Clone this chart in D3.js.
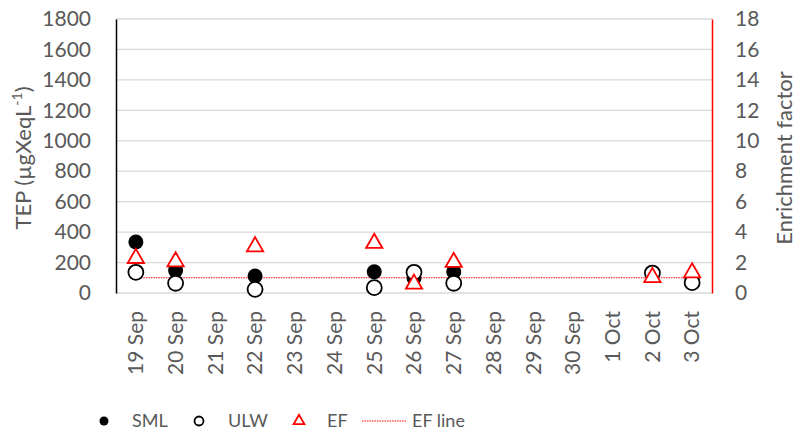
<!DOCTYPE html>
<html>
<head>
<meta charset="utf-8">
<script src="https://cdn.jsdelivr.net/npm/d3@7"></script>
<style>
  body { margin: 0; background: #fff; }
  svg { display: block; }
  text { font-family: Lato, "Liberation Sans", sans-serif; fill: #595959; }
</style>
</head>
<body>
<svg id="chart" width="796" height="430"></svg>
<script>
const categories = ["19 Sep","20 Sep","21 Sep","22 Sep","23 Sep","24 Sep","25 Sep","26 Sep","27 Sep","28 Sep","29 Sep","30 Sep","1 Oct","2 Oct","3 Oct"];
const smlValues = [335, 147, null, 112, null, null, 140, 99, 140, null, null, null, null, 131, 88];
const ulwValues = [136, 64, null, 24, null, null, 35, 136, 64, null, null, null, null, 131, 68];
const efValues  = [2.28, 2.06, null, 3.05, null, null, 3.27, 0.59, 2.02, null, null, null, null, 1.03, 1.34];
const efLineValue = 1;
const leftTicks = [0,200,400,600,800,1000,1200,1400,1600,1800];
const rightTicks = [0,2,4,6,8,10,12,14,16,18];

const svg = d3.select("#chart");
const L = 116, R = 712, T = 19, B = 293;

const x = d3.scaleBand().domain(categories).range([L, R]);
const yL = d3.scaleLinear().domain([0, 1800]).range([B, T]);
const yR = d3.scaleLinear().domain([0, 18]).range([B, T]);
const cx = d => x(d) + x.bandwidth() / 2;

// gridlines
svg.append("g").selectAll("line").data(leftTicks).join("line")
  .attr("x1", L).attr("x2", R)
  .attr("y1", d => yL(d)).attr("y2", d => yL(d))
  .attr("stroke", "#d9d9d9").attr("stroke-width", 1.3);

// left axis
const gL = svg.append("g").attr("transform", `translate(${L},0)`)
  .call(d3.axisLeft(yL).tickValues(leftTicks).tickFormat(d3.format("d")).tickSize(0).tickPadding(25));
gL.select(".domain").attr("stroke", "#000").attr("stroke-width", 1.5);
gL.selectAll("text").style("font-size", "21px").attr("fill", "#595959");

// right axis
const gR = svg.append("g").attr("transform", `translate(${R},0)`)
  .call(d3.axisRight(yR).tickValues(rightTicks).tickFormat(d3.format("d")).tickSize(0).tickPadding(23));
gR.select(".domain").attr("stroke", "#ff0000").attr("stroke-width", 1.5);
gR.selectAll("text").style("font-size", "21px").attr("fill", "#595959");

// x axis labels
const gX = svg.append("g").attr("transform", `translate(0,${B})`)
  .call(d3.axisBottom(x).tickSize(0).tickPadding(0));
gX.select(".domain").remove();
gX.selectAll("text")
  .style("font-size", "21px").attr("fill", "#595959")
  .attr("text-anchor", "end")
  .attr("transform", "translate(0,18) rotate(-90)")
  .attr("x", 0).attr("y", 0).attr("dy", "0.35em");

// axis titles
const tl = svg.append("text")
  .attr("transform", `translate(31,${(T + B) / 2 + 2}) rotate(-90)`)
  .attr("text-anchor", "middle").style("font-size", "22px");
tl.append("tspan").text("TEP (µgXeqL");
tl.append("tspan").text("-1").attr("dy", -9).style("font-size", "14px");
tl.append("tspan").text(")").attr("dy", 9);

svg.append("text")
  .attr("transform", `translate(792,${(T + B) / 2 + 2}) rotate(-90)`)
  .attr("text-anchor", "middle").style("font-size", "22px")
  .text("Enrichment factor");

// EF line
svg.append("line")
  .attr("x1", cx(categories[0])).attr("x2", cx(categories[categories.length - 1]))
  .attr("y1", yR(efLineValue)).attr("y2", yR(efLineValue))
  .attr("stroke", "#ff0000").attr("stroke-width", 1).attr("stroke-dasharray", "1.5,1");

const idx = categories.map((c, i) => i);
// SML
svg.append("g").selectAll("circle").data(idx.filter(i => smlValues[i] != null)).join("circle")
  .attr("cx", i => cx(categories[i])).attr("cy", i => yL(smlValues[i]))
  .attr("r", 7.5).attr("fill", "#000");
// ULW
svg.append("g").selectAll("circle").data(idx.filter(i => ulwValues[i] != null)).join("circle")
  .attr("cx", i => cx(categories[i])).attr("cy", i => yL(ulwValues[i]))
  .attr("r", 7.5).attr("fill", "#fff").attr("stroke", "#000").attr("stroke-width", 1.8);
// EF
const tri = d3.symbol().type(d3.symbolTriangle).size(115);
svg.append("g").selectAll("path").data(idx.filter(i => efValues[i] != null)).join("path")
  .attr("d", tri)
  .attr("transform", i => `translate(${cx(categories[i])},${yR(efValues[i])})`)
  .attr("fill", "#fff").attr("stroke", "#ff0000").attr("stroke-width", 1.8);

// legend
const ly = 421;
const lg = svg.append("g");
lg.append("circle").attr("cx", 104).attr("cy", ly).attr("r", 4.5).attr("fill", "#000");
lg.append("text").attr("x", 132).attr("y", ly).attr("dy", "0.35em").style("font-size", "18px").text("SML");
lg.append("circle").attr("cx", 199).attr("cy", ly).attr("r", 4.5).attr("fill", "#fff").attr("stroke", "#000").attr("stroke-width", 1.8);
lg.append("text").attr("x", 228).attr("y", ly).attr("dy", "0.35em").style("font-size", "18px").text("ULW");
lg.append("path").attr("d", d3.symbol().type(d3.symbolTriangle).size(50))
  .attr("transform", `translate(299,${ly})`).attr("fill", "#fff").attr("stroke", "#ff0000").attr("stroke-width", 1.8);
lg.append("text").attr("x", 327).attr("y", ly).attr("dy", "0.35em").style("font-size", "18px").text("EF");
lg.append("line").attr("x1", 362).attr("x2", 406).attr("y1", ly).attr("y2", ly)
  .attr("stroke", "#ff0000").attr("stroke-width", 1).attr("stroke-dasharray", "1.5,1");
lg.append("text").attr("x", 412).attr("y", ly).attr("dy", "0.35em").style("font-size", "18px").text("EF line");
</script>
</body>
</html>
